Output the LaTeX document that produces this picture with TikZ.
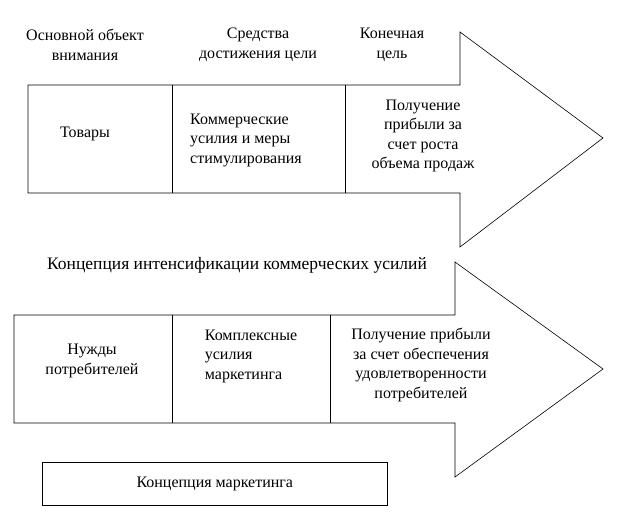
\documentclass[tikz,border=0pt]{standalone}
\usepackage{fontspec}
\setmainfont{Liberation Serif}
\begin{document}
\begin{tikzpicture}[x=1pt,y=-1pt,
  outl/.style={draw=black,line width=0.6pt,fill=white},
  txt/.style={font=\fontsize{16}{19.5}\selectfont,align=center,inner sep=0pt},
  txtl/.style={font=\fontsize{16}{19.5}\selectfont,align=left,inner sep=0pt}]
\useasboundingbox (0,0) rectangle (632,521);
\draw[outl] (28,85) -- (460,85) -- (460,32) -- (603,138) -- (460,247) -- (460,193) -- (28,193) -- cycle;
\draw[outl] (172,85) -- (172,193);
\draw[outl] (345,85) -- (345,193);
\draw[outl] (14,315) -- (455,315) -- (455,262) -- (603,369) -- (455,477) -- (455,423) -- (14,423) -- cycle;
\draw[outl] (172,315) -- (172,423);
\draw[outl] (330,315) -- (330,423);
\node[outl,minimum width=345,minimum height=43,anchor=north west,inner sep=0pt] (box) at (42,462) {};
\node[txt] (bl) at (box.center) {Концепция маркетинга};
\node[txt] (h1) at (85,45) {Основной объект\\внимания};
\node[txt] (h2) at (258,45) {Средства\\достижения цели};
\node[txt] (h3) at (392,45) {Конечная\\цель};
\node[txt] (t1) at (85,134) {Товары};
\node[txtl] (t2) at (246,140) {Коммерческие\\усилия и меры\\стимулирования};
\node[txt] (t3) at (423,136) {Получение\\прибыли за\\счет роста\\объема продаж};
\node[txt,font=\fontsize{17.5}{20}\selectfont] (cap) at (237,265) {Концепция интенсификации коммерческих усилий};
\node[txt] (b1) at (92,361) {Нужды\\потребителей};
\node[txtl] (b2) at (251,356) {Комплексные\\усилия\\маркетинга};
\node[txt] (b3) at (421,365) {Получение прибыли\\за счет обеспечения\\удовлетворенности\\потребителей};
\end{tikzpicture}
\end{document}
